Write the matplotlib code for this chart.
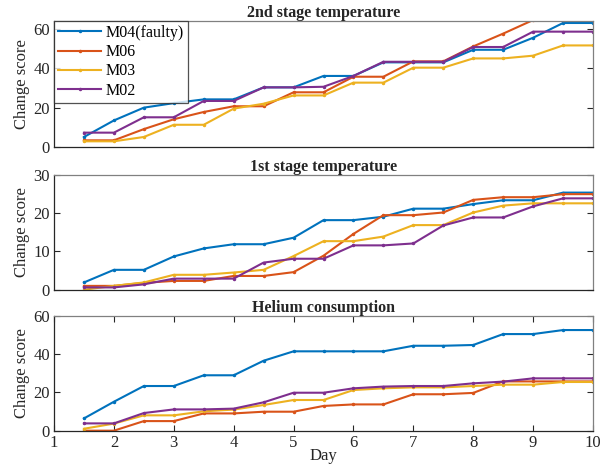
import matplotlib
matplotlib.use('Agg')
import matplotlib.pyplot as plt

plt.rcParams['font.family'] = ['Liberation Serif', 'DejaVu Serif']

# days (half-day steps)
days = [1.5, 2, 2.5, 3, 3.5, 4, 4.5, 5, 5.5, 6, 6.5, 7, 7.5, 8, 8.5, 9, 9.5, 10]

names = ['M04(faulty)', 'M06', 'M03', 'M02']
colors = ['#0072BD', '#D95319', '#EDB120', '#7E2F8E']

# 2nd stage temperature
t2_m04 = [5.1, 13.5, 20.0, 22.3, 24.2, 24.2, 30.3, 30.3, 36.1, 36.1, 43.0, 43.0, 43.0, 49.4, 49.4, 55.5, 63.0, 63.0]
t2_m06 = [3.4, 3.4, 9.1, 14.1, 17.8, 20.7, 20.7, 27.8, 27.8, 35.7, 35.7, 43.5, 43.5, 51.1, 57.6, 64.5, 64.5, 64.5]
t2_m03 = [2.9, 2.9, 5.1, 11.3, 11.3, 19.5, 22.0, 26.2, 26.2, 32.7, 32.7, 40.3, 40.3, 45.0, 45.0, 46.4, 51.6, 51.6]
t2_m02 = [7.3, 7.3, 15.1, 15.1, 23.4, 23.4, 30.3, 30.3, 30.6, 36.1, 43.3, 43.3, 43.3, 50.8, 50.8, 58.6, 58.6, 58.6]

# 1st stage temperature
t1_m04 = [1.9, 5.2, 5.2, 8.7, 10.8, 11.9, 11.9, 13.6, 18.2, 18.2, 19.1, 21.2, 21.2, 22.4, 23.4, 23.4, 25.4, 25.4]
t1_m06 = [1.0, 1.0, 1.8, 2.3, 2.3, 3.6, 3.6, 4.6, 8.9, 14.6, 19.5, 19.5, 20.2, 23.5, 24.2, 24.2, 25.0, 25.0]
t1_m03 = [0.0, 1.0, 1.9, 3.9, 3.9, 4.5, 5.2, 8.8, 12.7, 12.7, 13.9, 16.9, 16.9, 20.2, 22.0, 22.6, 22.6, 22.6]
t1_m02 = [0.6, 0.6, 1.4, 2.9, 2.9, 2.9, 7.1, 8.1, 8.1, 11.6, 11.6, 12.1, 16.8, 18.9, 18.9, 21.8, 23.9, 23.9]

# helium consumption
he_m04 = [6.4, 15.1, 23.3, 23.3, 28.9, 28.9, 36.5, 41.4, 41.4, 41.4, 41.4, 44.3, 44.3, 44.7, 50.4, 50.4, 52.5, 52.5]
he_m06 = [0.0, 0.0, 5.0, 5.0, 9.0, 9.0, 9.9, 9.9, 12.9, 13.7, 13.7, 19.0, 19.0, 19.7, 25.7, 25.7, 25.7, 25.7]
he_m03 = [1.0, 3.7, 8.0, 8.0, 10.1, 11.0, 13.4, 16.0, 16.0, 21.2, 22.1, 22.6, 22.6, 23.3, 24.0, 24.0, 25.4, 25.4]
he_m02 = [3.8, 3.8, 9.2, 11.1, 11.1, 11.5, 14.8, 19.8, 19.8, 22.1, 23.0, 23.3, 23.3, 24.7, 25.6, 27.3, 27.3, 27.3]

panels = [
    ('2nd stage temperature', [t2_m04, t2_m06, t2_m03, t2_m02], 64, [0, 20, 40, 60]),
    ('1st stage temperature', [t1_m04, t1_m06, t1_m03, t1_m02], 30, [0, 10, 20, 30]),
    ('Helium consumption', [he_m04, he_m06, he_m03, he_m02], 60, [0, 20, 40, 60]),
]

fig = plt.figure(figsize=(6.01, 4.66), dpi=100)
positions = [
    [0.0899, 0.6845, 0.8968, 0.2704],
    [0.0899, 0.3783, 0.8968, 0.2461],
    [0.0899, 0.0758, 0.8968, 0.2468],
]

for i, (title, series, ymax, yt) in enumerate(panels):
    ax = fig.add_axes(positions[i])
    for s, name, c in zip(series, names, colors):
        ax.plot(days, s, color=c, lw=1.5, marker='.', markersize=3, label=name)
    ax.set_xlim(1, 10)
    ax.set_ylim(0, ymax)
    ax.set_yticks(yt)
    ax.set_title(title, fontsize=11.5, fontweight='bold', pad=3, color='#262626')
    ax.set_ylabel('Change score', fontsize=12, labelpad=2, color='#262626')
    ax.tick_params(direction='in', length=4, width=0.8, labelsize=12, colors='#262626',
                   left=True, right=True, top=(i == 2), bottom=(i == 2), pad=3)
    if i == 2:
        ax.set_xticks(range(1, 11))
        ax.set_xlabel('Day', fontsize=12, labelpad=-2, color='#262626')
    else:
        ax.set_xticks([])
    for side in ['left', 'bottom']:
        ax.spines[side].set_color('#262626')
    for side in ['top', 'right']:
        ax.spines[side].set_color('#808080')
    for sp in ax.spines.values():
        sp.set_linewidth(0.9)
    if i == 0:
        leg = ax.legend(loc='upper left', fontsize=11.5, frameon=True, fancybox=False,
                        borderaxespad=0, handlelength=2.7, handletextpad=0.3,
                        labelspacing=0.2, borderpad=0.25)
        leg.get_frame().set_edgecolor('#262626')
        leg.get_frame().set_linewidth(0.9)

fig.savefig('out.png', dpi=100)
